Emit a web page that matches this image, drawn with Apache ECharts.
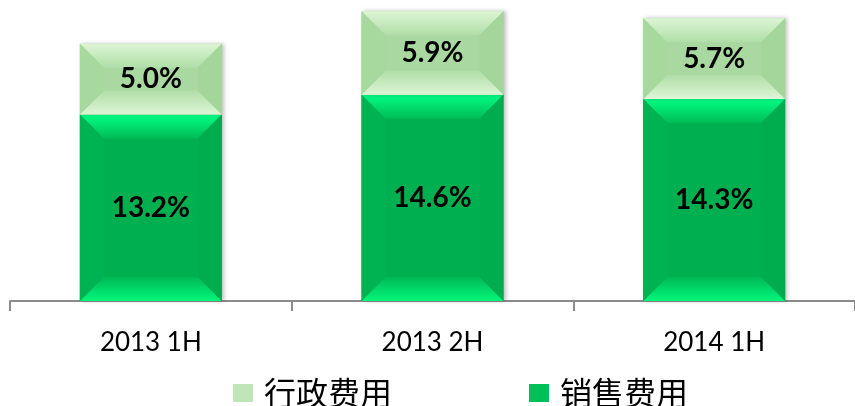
<!DOCTYPE html>
<html lang="zh" style="height: 100%">
<head>
<meta charset="utf-8">
<title>费用率</title>
</head>
<body style="height: 100%; margin: 0; background: #fff">
<div id="container" style="width: 855px; height: 406px"></div>

<script type="text/javascript" src="https://cdn.jsdelivr.net/npm/echarts/dist/echarts.min.js"></script>

<script type="text/javascript">
var dom = document.getElementById('container');
var myChart = echarts.init(dom);

var categories = ['2013 1H', '2013 2H', '2014 1H'];
var salesExpense = [13.2, 14.6, 14.3];   // 销售费用
var adminExpense = [5.0, 5.9, 5.7];      // 行政费用

var BAR_W = 142;

// palettes for the bevelled look
var greenPal = {
    center: '#00b050', left: '#00b352', right: '#00ad4e',
    top: ['#00ff86', '#00bc55'], bottom: ['#00b955', '#00f67a']
};
var lightPal = {
    center: '#a9d9a0', left: '#a7d89e', right: '#a4d59b',
    top: ['#dcf5d4', '#b0dea7'], bottom: ['#b0dea7', '#ddf5d6']
};

function grad(c) {
    return new echarts.graphic.LinearGradient(0, 0, 0, 1, [
        { offset: 0, color: c[0] }, { offset: 1, color: c[1] }
    ]);
}

function bevelItem(pal) {
    return function (params, api) {
        var i = api.value(0);
        var pTop = api.coord([i, api.value(2)]);
        var pBot = api.coord([i, api.value(1)]);
        var x0 = pTop[0] - BAR_W / 2, x1 = x0 + BAR_W;
        var y0 = pTop[1], y1 = pBot[1];
        var d = Math.min(24, (y1 - y0) / 2, BAR_W / 2);
        return {
            type: 'group',
            children: [
                { type: 'rect', shape: { x: x0, y: y0, width: BAR_W, height: y1 - y0 },
                  style: { fill: pal.center, shadowColor: 'rgba(0,0,0,0.25)', shadowBlur: 4, shadowOffsetX: 2 } },
                { type: 'polygon', shape: { points: [[x0, y0], [x1, y0], [x1 - d, y0 + d], [x0 + d, y0 + d]] },
                  style: { fill: grad(pal.top) } },
                { type: 'polygon', shape: { points: [[x0 + d, y1 - d], [x1 - d, y1 - d], [x1, y1], [x0, y1]] },
                  style: { fill: grad(pal.bottom) } },
                { type: 'polygon', shape: { points: [[x0, y0], [x0 + d, y0 + d], [x0 + d, y1 - d], [x0, y1]] },
                  style: { fill: pal.left } },
                { type: 'polygon', shape: { points: [[x1, y0], [x1 - d, y0 + d], [x1 - d, y1 - d], [x1, y1]] },
                  style: { fill: pal.right } }
            ]
        };
    };
}

var salesBoxes = salesExpense.map(function (v, i) { return [i, 0, v]; });
var adminBoxes = adminExpense.map(function (v, i) { return [i, salesExpense[i], salesExpense[i] + v]; });

var labelStyle = {
    show: true,
    position: 'inside',
    color: '#000',
    fontFamily: 'Lato',
    fontWeight: 'bold',
    fontSize: 28,
    formatter: function (p) { return p.value.toFixed(1) + '%'; }
};

var option = {
    animation: false,
    grid: { left: 10, top: 0, width: 852, bottom: 105 },
    legend: {
        left: 233,
        top: 377,
        padding: 0,
        itemGap: 137,
        itemWidth: 20,
        itemHeight: 18,
        icon: 'rect',
        textStyle: { fontSize: 32, color: '#000', fontFamily: 'Noto Sans CJK SC', padding: [0, 0, 0, 6] },
        data: [
            { name: '行政费用', itemStyle: { color: '#bfe6b6' } },
            { name: '销售费用', itemStyle: { color: '#00c05a' } }
        ]
    },
    xAxis: {
        type: 'category',
        data: categories,
        axisLine: { lineStyle: { color: '#8c8c8c', width: 2 } },
        axisTick: { show: true, length: 10, lineStyle: { color: '#8c8c8c', width: 2 } },
        axisLabel: { color: '#000', fontSize: 26, fontFamily: 'Lato', margin: 29 }
    },
    yAxis: {
        type: 'value',
        min: 0,
        max: 21.3,
        show: false,
        splitLine: { show: false }
    },
    series: [
        {
            name: 'sales-bevel',
            type: 'custom',
            z: 2,
            renderItem: bevelItem(greenPal),
            data: salesBoxes
        },
        {
            name: 'admin-bevel',
            type: 'custom',
            z: 2,
            renderItem: bevelItem(lightPal),
            data: adminBoxes
        },
        {
            name: '销售费用',
            type: 'bar',
            stack: 'total',
            barWidth: BAR_W,
            z: 5,
            data: salesExpense,
            itemStyle: { color: 'rgba(0,0,0,0)' },
            label: labelStyle
        },
        {
            name: '行政费用',
            type: 'bar',
            stack: 'total',
            barWidth: BAR_W,
            z: 5,
            data: adminExpense,
            itemStyle: { color: 'rgba(0,0,0,0)' },
            label: labelStyle
        }
    ]
};

myChart.setOption(option);
window.addEventListener('resize', myChart.resize);
</script>
</body>
</html>
